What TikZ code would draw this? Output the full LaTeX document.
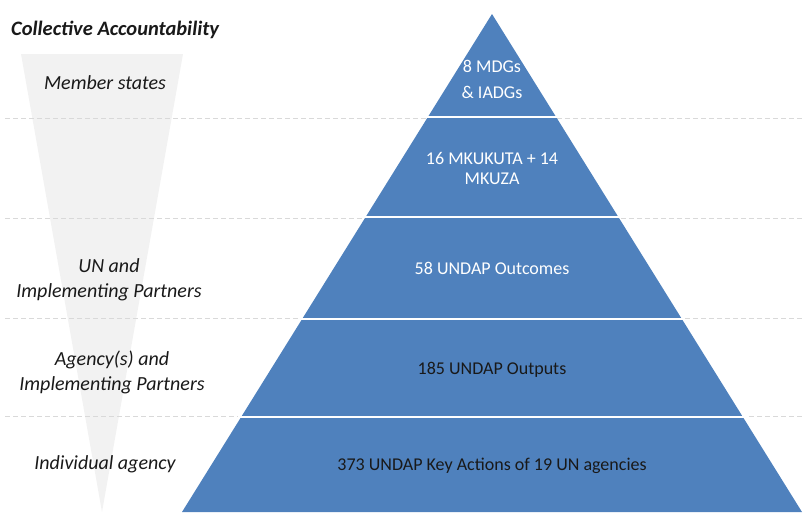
\documentclass[tikz,border=0pt]{standalone}
\usepackage{fontspec}
\setmainfont{Carlito}
\begin{document}
\begin{tikzpicture}[x=1pt,y=-1pt,
  guide/.style={draw=black!15,line width=0.8pt,dash pattern=on 5pt off 3pt},
  band/.style={fill=pyr,draw=none},
  sep/.style={draw=white,line width=2pt},
  lbl/.style={font=\fontsize{20}{25}\selectfont\itshape,align=center,text=black!90,inner sep=0pt},
  plbl/.style={font=\fontsize{18}{26}\selectfont,align=center,inner sep=0pt}]
\definecolor{pyr}{HTML}{4F81BD}
\definecolor{funnel}{HTML}{F2F2F2}
\useasboundingbox (0,0) rectangle (805,512);
% grey inverted funnel
\fill[funnel] (21,54) -- (183,54) -- (102,512) -- cycle;
% dashed guide lines
\foreach \yy in {118,218,318,416} \draw[guide] (5,\yy) -- (805,\yy);
% pyramid
\fill[band] (492,14) -- (802,512) -- (182,512) -- cycle;
\foreach \yy in {117,217,319,417}
  \draw[sep] ({492-0.6225*(\yy-14)-3},\yy) -- ({492+0.6225*(\yy-14)+3},\yy);
% pyramid labels
\node[plbl,text=white] (t1) at (492,79) {8 MDGs\\\& IADGs};
\node[plbl,text=white,font=\fontsize{18}{20}\selectfont] (t2) at (492,168) {16 MKUKUTA + 14\\MKUZA};
\node[plbl,text=white] (t3) at (492,268) {58 UNDAP Outcomes};
\node[plbl,text=black!90] (t4) at (492,370) {185 UNDAP Outputs};
\node[plbl,text=black!90] (t5) at (492,466) {373 UNDAP Key Actions of 19 UN agencies};
% left labels
\node[lbl,font=\fontsize{20.5}{25}\selectfont\bfseries\itshape,anchor=west] (ca) at (11,30) {Collective Accountability};
\node[lbl] (l1) at (105,83) {Member states};
\node[lbl] (l2) at (109,280) {UN and\\Implementing Partners};
\node[lbl] (l3) at (112,372) {Agency(s) and\\Implementing Partners};
\node[lbl] (l4) at (105,464) {Individual agency};
\end{tikzpicture}
\end{document}
